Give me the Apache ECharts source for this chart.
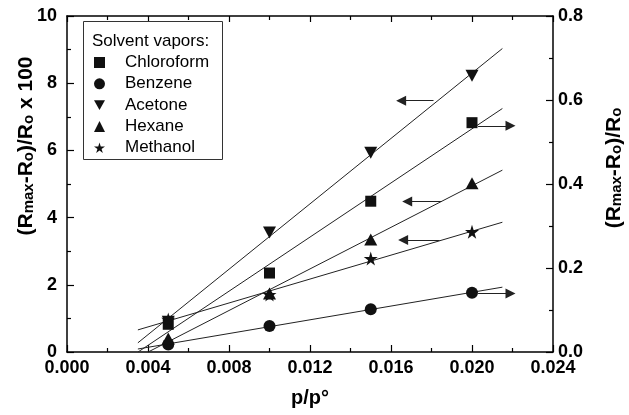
<!DOCTYPE html>
<html>
<head>
<meta charset="utf-8">
<script src="https://cdn.jsdelivr.net/npm/echarts@6/dist/echarts.min.js"></script>
<style>
html,body{margin:0;padding:0;background:#fff;}
#c{width:629px;height:415px;}
</style>
</head>
<body>
<div id="c"></div>
<script>
// ---- data ----
const xVals = [0.005, 0.010, 0.015, 0.020];           // p/p°
const chloroform = [0.066, 0.188, 0.359, 0.546];      // right axis
const benzene    = [0.018, 0.062, 0.102, 0.141];      // right axis
const acetone    = [0.90, 3.56, 5.93, 8.22];          // left axis
const hexane     = [0.40, 1.74, 3.35, 5.02];          // left axis
const methanol   = [0.97, 1.71, 2.78, 3.58];          // left axis
const seriesNames = ['Chloroform', 'Benzene', 'Acetone', 'Hexane', 'Methanol'];
const fitRange = [0.0035, 0.0215];                    // x span of fit lines
// arrows [xFrom, xTo, y(left-axis units)]
const arrowChloroform = [0.0203, 0.0219, 6.73];
const arrowBenzene    = [0.0203, 0.0219, 1.74];
const arrowAcetone    = [0.0181, 0.0165, 7.48];
const arrowHexane     = [0.0185, 0.0168, 4.48];
const arrowMethanol   = [0.0184, 0.0166, 3.33];
const xTicks = [0, 0.024, 0.004];
const yLeftTicks = [0, 10, 2];
const yRightTicks = [0, 0.8, 0.2];

const STAR = 'path://M50,0 L61,35 L98,35 L68,57 L79,91 L50,70 L21,91 L32,57 L2,35 L39,35 Z';
const DOWN_TRI = 'path://M0,0 L20,0 L10,18 Z';
const ARROW_HEAD = 'path://M5,0 L10,20 L0,20 Z';

function pairs(ys) { return xVals.map((x, i) => [x, ys[i]]); }
function fit(ys) {
  const n = xVals.length;
  const mx = xVals.reduce((a, b) => a + b, 0) / n;
  const my = ys.reduce((a, b) => a + b, 0) / n;
  let sxy = 0, sxx = 0;
  xVals.forEach((x, i) => { sxy += (x - mx) * (ys[i] - my); sxx += (x - mx) * (x - mx); });
  const m = sxy / sxx, b = my - m * mx;
  let x0 = fitRange[0];
  if (m * x0 + b < 0) x0 = -b / m;
  return [[x0, m * x0 + b], [fitRange[1], m * fitRange[1] + b]];
}

const FONT = 'Liberation Sans, Arial, Helvetica, sans-serif';
const ink = '#111';

function scatter(name, ys, symbol, size, yIdx) {
  return {
    name: name, type: 'scatter', data: pairs(ys), yAxisIndex: yIdx,
    symbol: symbol, symbolSize: size, itemStyle: { color: ink, opacity: 1 }, z: 5
  };
}
function fitLine(ys, yIdx) {
  return {
    name: 'fit', type: 'line', data: fit(ys), yAxisIndex: yIdx, showSymbol: false,
    symbol: 'none', lineStyle: { color: '#222', width: 1 }, silent: true, z: 3, animation: false
  };
}

const arrows = [arrowChloroform, arrowBenzene, arrowAcetone, arrowHexane, arrowMethanol];

const axisLine = { show: true, onZero: false, lineStyle: { color: '#000', width: 1.5 } };
const labelStyle = { color: '#000', fontFamily: FONT, fontWeight: 'bold', fontSize: 18 };

const main = { fontFamily: FONT, fontWeight: 'bold', fontSize: 21, lineHeight: 21, verticalAlign: 'top', fill: '#000', color: '#000' };
const sub = { fontFamily: FONT, fontWeight: 'bold', fontSize: 15, lineHeight: 15, verticalAlign: 'bottom', padding: [17, 0, 0, 0], fill: '#000', color: '#000' };

const option = {
  animation: false,
  backgroundColor: '#fff',
  grid: { left: 67, right: 76, top: 16, bottom: 63 },
  legend: {
    data: seriesNames, orient: 'vertical', left: 94, top: 54, padding: 0,
    itemWidth: 11, itemHeight: 11, itemGap: 4.3,
    textStyle: { fontFamily: FONT, fontSize: 17, color: '#000', lineHeight: 17, padding: [0, 0, 0, 15] },
    selectedMode: false
  },
  xAxis: [{
    type: 'value', min: xTicks[0], max: xTicks[1], interval: xTicks[2], position: 'bottom',
    axisLine: axisLine,
    axisTick: { inside: true, length: 7, lineStyle: { color: '#000', width: 1.2 } },
    minorTick: { show: true, splitNumber: 2, length: 4, lineStyle: { color: '#000', width: 1.2 } },
    splitLine: { show: false },
    axisLabel: Object.assign({ margin: 7, formatter: v => v.toFixed(3) }, labelStyle),
    name: 'p/p°', nameLocation: 'middle', nameGap: 36,
    nameTextStyle: { fontFamily: FONT, fontWeight: 'bold', fontSize: 20, color: '#000' }
  }, {
    type: 'value', min: xTicks[0], max: xTicks[1], interval: xTicks[2], position: 'top',
    axisLine: axisLine,
    axisTick: { inside: true, length: 6, lineStyle: { color: '#000', width: 1.2 } },
    minorTick: { show: true, splitNumber: 2, length: 4, lineStyle: { color: '#000', width: 1.2 } },
    splitLine: { show: false }, axisLabel: { show: false }
  }],
  yAxis: [{
    type: 'value', min: yLeftTicks[0], max: yLeftTicks[1], interval: yLeftTicks[2], position: 'left',
    axisLine: axisLine,
    axisTick: { inside: true, length: 7, lineStyle: { color: '#000', width: 1.2 } },
    minorTick: { show: true, splitNumber: 2, length: 4, lineStyle: { color: '#000', width: 1.2 } },
    splitLine: { show: false },
    axisLabel: Object.assign({ margin: 10, formatter: v => String(v) }, labelStyle)
  }, {
    type: 'value', min: yRightTicks[0], max: yRightTicks[1], interval: yRightTicks[2], position: 'right',
    axisLine: axisLine,
    axisTick: { inside: true, length: 7, lineStyle: { color: '#000', width: 1.2 } },
    minorTick: { show: true, splitNumber: 2, length: 4, lineStyle: { color: '#000', width: 1.2 } },
    splitLine: { show: false },
    axisLabel: Object.assign({ margin: 5, formatter: v => v.toFixed(1) }, labelStyle)
  }],
  graphic: [
    { type: 'rect', left: 83, top: 21, shape: { width: 139, height: 138 },
      style: { fill: '#fff', stroke: '#333', lineWidth: 1 }, z: 1 },
    { type: 'text', left: 92, top: 33, z: 2,
      style: { text: 'Solvent vapors:', font: '17px ' + FONT, fill: '#000' } },
    { type: 'text', x: 26, y: 146, rotation: Math.PI / 2, z: 10,
      style: {
        text: '{m|(R}{s|max}{m|-R}{s|o}{m|)/R}{s|o}{m| x 100}',
        align: 'center', verticalAlign: 'middle',
        rich: { m: main, s: sub }
      } },
    { type: 'text', x: 614, y: 168, rotation: Math.PI / 2, z: 10,
      style: {
        text: '{m|(R}{s|max}{m|-R}{s|o}{m|)/R}{s|o}',
        align: 'center', verticalAlign: 'middle',
        rich: { m: main, s: sub }
      } }
  ],
  series: [
    fitLine(chloroform, 1), fitLine(benzene, 1), fitLine(acetone, 0), fitLine(hexane, 0), fitLine(methanol, 0),
    scatter('Benzene', benzene, 'circle', 12, 1),
    scatter('Hexane', hexane, 'triangle', [13, 12], 0),
    scatter('Acetone', acetone, DOWN_TRI, [13, 12], 0),
    scatter('Chloroform', chloroform, 'rect', 11, 1),
    scatter('Methanol', methanol, STAR, 14, 0),
    {
      name: 'arrows', type: 'lines', coordinateSystem: 'cartesian2d', xAxisIndex: 0, yAxisIndex: 0,
      data: arrows.map(a => ({ coords: [[a[0], a[2]], [a[1], a[2]]] })),
      symbol: ['none', ARROW_HEAD], symbolSize: [4.5, 10],
      lineStyle: { color: '#222', width: 1, opacity: 1 }, silent: true, z: 4
    }
  ]
};
const chart = echarts.init(document.getElementById('c'), null, { renderer: 'canvas' });
chart.setOption(option);
</script>
</body>
</html>
